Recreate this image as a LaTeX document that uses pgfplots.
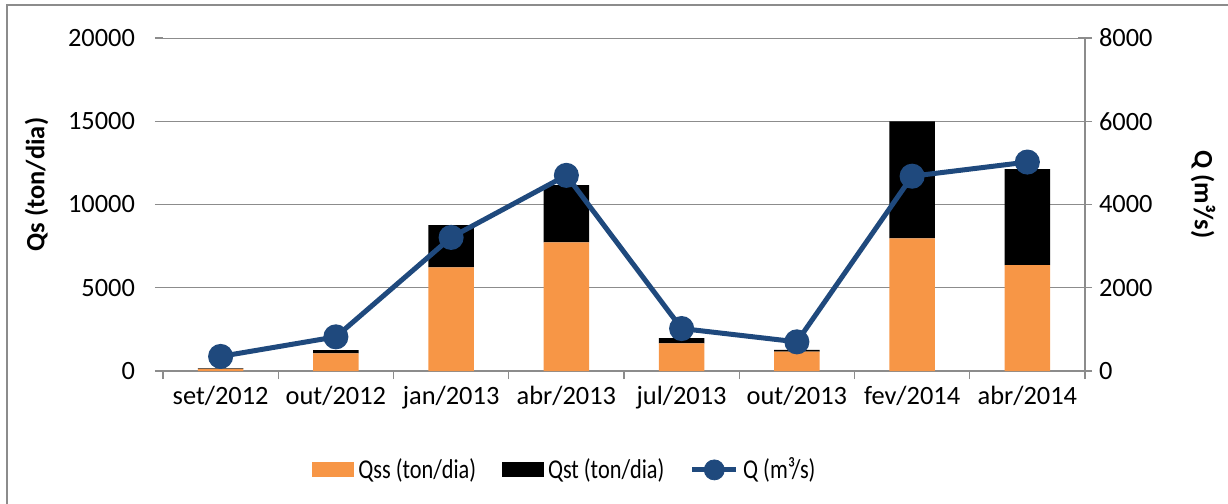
\documentclass[border=0pt]{standalone}
\usepackage{fontspec}
\setmainfont{Carlito}
\newfontfamily\legfont[FakeStretch=0.82]{Carlito}
\usepackage{pgfplots}
\pgfplotsset{compat=1.18}
\definecolor{qss}{HTML}{F79646}
\definecolor{qline}{HTML}{1F497D}
\definecolor{axgray}{HTML}{8C8C8C}

% valores
\pgfplotstableread{
x qss qst q
0 130 30 350
1 1060 200 820
2 6220 2540 3210
3 7720 3440 4700
4 1660 315 1020
5 1160 115 700
6 7960 7040 4680
7 6360 5760 5020
}\dados

\pgfplotsset{
  base/.style={scale only axis, width=461pt, height=166.5pt, at={(0pt,0pt)},
    anchor=south west, xmin=-0.5, xmax=7.5, scaled y ticks=false,
    tick style={axgray, line width=0.6pt},
    yticklabel style={/pgf/number format/1000 sep={}, /pgf/number format/assume math mode=true},
  },
}

\begin{document}
\begin{tikzpicture}[font=\fontsize{13.2}{15}\selectfont]
\begin{axis}[base,
  ymin=0, ymax=20000, ybar stacked, bar width=22.65pt,
  axis y line*=left, axis x line*=bottom,
  y axis line style={draw opacity=0},
  x axis line style={axgray, line width=0.6pt, -},
  xtick={0,...,7},
  xticklabels={set/2012,out/2012,jan/2013,abr/2013,jul/2013,out/2013,fev/2014,abr/2014},
  major x tick style={draw=none},
  minor xtick={-0.5,0.5,...,7.5},
  minor tick length=4pt, major tick length=4pt,
  tick align=outside,
  ytick style={draw=axgray, draw opacity=1, line width=0.6pt},
  yticklabel style={xshift=-6.5pt},
  ytick={0,5000,...,20000},
  ymajorgrids, grid style={axgray, line width=0.5pt},
  ylabel={\textbf{Qs (ton/dia)}},
  every axis y label/.style={at={(axis description cs:-0.137,0.56)}, rotate=90, anchor=center},
  legend style={at={(axis description cs:0.437,-0.297)}, anchor=center, draw=none,
    legend columns=3, /tikz/every even column/.append style={column sep=10.5pt},
    nodes={inner xsep=2.2pt, font=\fontsize{13.6}{15}\legfont}},
  legend cell align=left,
]
\addplot[fill=qss, draw=none,
  legend image code/.code={\fill[qss] (0pt,-3.75pt) rectangle (21pt,3.75pt);}]
  table[x=x, y=qss] {\dados};
\addlegendentry{Qss (ton/dia)}
\addplot[fill=black, draw=none,
  legend image code/.code={\fill[black] (0pt,-3.75pt) rectangle (21pt,3.75pt);}]
  table[x=x, y=qst] {\dados};
\addlegendentry{Qst (ton/dia)}
\addlegendimage{legend image code/.code={
  \draw[qline, line width=2.5pt] (0pt,0pt) -- (22pt,0pt);
  \fill[qline] (11pt,0pt) circle (5pt);}}
\addlegendentry{Q (m³/s)}
\end{axis}

\begin{axis}[base,
  ymin=0, ymax=8000,
  axis y line*=right, axis x line=none,
  y axis line style={axgray, line width=0.6pt, -},
  ytick={0,2000,...,8000},
  ytick align=center, major tick length=7pt,
  ylabel={\textbf{Q (m³/s)}},
  every axis y label/.style={at={(axis description cs:1.128,0.53)}, rotate=-90, anchor=center},
]
\addplot[qline, line width=2.5pt, mark=*, mark size=5pt] table[x=x, y=q] {\dados};
\end{axis}

\draw[axgray, line width=1pt] (-78pt,-80pt) -- (-78pt,183pt) -- (545pt,183pt);
\pgfresetboundingbox
\path[use as bounding box] (-81.5pt,-66.5pt) rectangle (532.5pt,185.5pt);
\end{tikzpicture}
\end{document}
